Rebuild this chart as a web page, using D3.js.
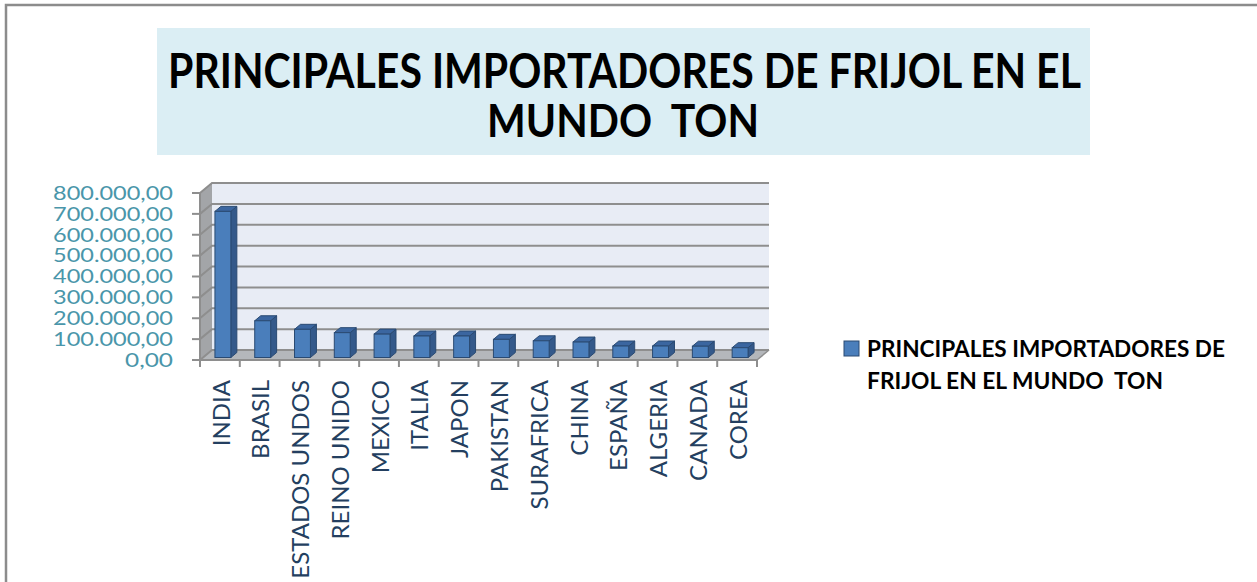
<!DOCTYPE html>
<html>
<head>
<meta charset="utf-8">
<script src="https://cdn.jsdelivr.net/npm/d3@7"></script>
<style>
  body { margin: 0; background: #fff; }
  svg text { font-family: Lato, "Open Sans", sans-serif; }
</style>
</head>
<body>
<div id="chart"></div>
<script>
    let categories = ["INDIA", "BRASIL", "ESTADOS UNDOS", "REINO UNIDO", "MEXICO", "ITALIA", "JAPON",
                      "PAKISTAN", "SURAFRICA", "CHINA", "ESPAÑA", "ALGERIA", "CANADA", "COREA"];
    let values = [700000, 176000, 135000, 119000, 112000, 103000, 103000,
                  87000, 80000, 74000, 55000, 55000, 54000, 47000];
    let yTicks = [0, 100000, 200000, 300000, 400000, 500000, 600000, 700000, 800000];
    let titleLines = ["PRINCIPALES IMPORTADORES DE FRIJOL EN EL", "MUNDO  TON"];
    let legendLines = ["PRINCIPALES IMPORTADORES DE", "FRIJOL EN EL MUNDO  TON"];

    let width = 1257, height = 582;
    let depthX = 12, depthY = 10; // offset of back wall vs front edge

    let svg = d3.select("#chart")
        .append("svg")
        .attr("width", width)
        .attr("height", height);

    // outer frame of the chart area
    svg.append("rect")
        .attr("x", 6).attr("y", 5)
        .attr("width", 1400).attr("height", 800)
        .attr("fill", "#fff")
        .attr("stroke", "#8c8c8c")
        .attr("stroke-width", 2.5);

    // title box
    svg.append("rect")
        .attr("x", 157).attr("y", 28)
        .attr("width", 933).attr("height", 127)
        .attr("fill", "#dbeef4");

    svg.append("text")
        .attr("x", 168).attr("y", 88)
        .attr("textLength", 913)
        .attr("lengthAdjust", "spacingAndGlyphs")
        .attr("font-size", "48px")
        .attr("font-weight", "bold")
        .attr("fill", "#000")
        .text(titleLines[0]);

    svg.append("text")
        .attr("x", 487).attr("y", 137)
        .attr("textLength", 272)
        .attr("lengthAdjust", "spacingAndGlyphs")
        .attr("font-size", "46px")
        .attr("font-weight", "bold")
        .attr("fill", "#000")
        .style("white-space", "pre")
        .text(titleLines[1]);

    // scales (front plane)
    let x = d3.scaleBand()
        .domain(categories)
        .range([200, 757])
        .paddingInner(0.6)
        .paddingOuter(0.3);

    let y = d3.scaleLinear()
        .domain([0, 800000])
        .range([360, 193]);

    // project a point at depth f (0 = front, 1 = back)
    function px(xv, f) { return xv + depthX * f; }
    function py(yv, f) { return yv - depthY * f; }

    let x0 = x.range()[0], x1 = x.range()[1];
    let yTop = y(800000), yBase = y(0);

    // back wall
    svg.append("polygon")
        .attr("points", [[px(x0,1), py(yTop,1)], [px(x1,1), py(yTop,1)], [px(x1,1), py(yBase,1)], [px(x0,1), py(yBase,1)]].join(" "))
        .attr("fill", "#e8ecf5");

    // side wall
    svg.append("polygon")
        .attr("points", [[x0, yTop], [px(x0,1), py(yTop,1)], [px(x0,1), py(yBase,1)], [x0, yBase]].join(" "))
        .attr("fill", "#a3a5a8");

    // floor
    svg.append("polygon")
        .attr("points", [[x0, yBase], [px(x0,1), py(yBase,1)], [px(x1,1), py(yBase,1)], [x1, yBase]].join(" "))
        .attr("fill", "#b4b7bb");

    // gridlines on back wall and side wall
    svg.append("g")
        .selectAll("path")
        .data(yTicks)
        .enter()
        .append("path")
        .attr("d", d => "M" + x0 + "," + y(d) + "L" + px(x0,1) + "," + py(y(d),1) + "L" + px(x1,1) + "," + py(y(d),1))
        .attr("fill", "none")
        .attr("stroke", "#8e8e8e")
        .attr("stroke-width", 2);

    // left axis: front edge line and ticks
    let yAxisG = svg.append("g");
    yAxisG.append("line")
        .attr("x1", x0).attr("x2", x0)
        .attr("y1", yTop).attr("y2", yBase)
        .attr("stroke", "#8e8e8e").attr("stroke-width", 2);
    yAxisG.selectAll(".tick")
        .data(yTicks)
        .enter()
        .append("line")
        .attr("x1", x0 - 8).attr("x2", x0)
        .attr("y1", d => y(d)).attr("y2", d => y(d))
        .attr("stroke", "#8e8e8e").attr("stroke-width", 2);

    let locale = d3.formatLocale({decimal: ",", thousands: ".", grouping: [3], currency: ["", ""]});
    let fmt = locale.format(",.2f");

    yAxisG.selectAll("text")
        .data(yTicks)
        .enter()
        .append("text")
        .attr("x", 173)
        .attr("y", d => y(d))
        .attr("dy", "0.36em")
        .attr("text-anchor", "end")
        .attr("font-size", "19px")
        .attr("textLength", d => fmt(d).length * 12)
        .attr("lengthAdjust", "spacingAndGlyphs")
        .attr("fill", "#4a96aa")
        .text(d => fmt(d));

    // bottom axis line and ticks at band boundaries
    let step = x.step();
    let bounds = categories.map(c => x(c) - step * x.paddingOuter());
    bounds.push(x1);

    svg.append("line")
        .attr("x1", x0).attr("x2", x1)
        .attr("y1", yBase).attr("y2", yBase)
        .attr("stroke", "#8e8e8e").attr("stroke-width", 2);
    svg.append("line")
        .attr("x1", x1).attr("y1", yBase)
        .attr("x2", px(x1,1)).attr("y2", py(yBase,1))
        .attr("stroke", "#8e8e8e").attr("stroke-width", 1.5);
    svg.selectAll(".xtick")
        .data(bounds)
        .enter()
        .append("line")
        .attr("x1", d => d).attr("x2", d => d)
        .attr("y1", yBase).attr("y2", yBase + 7)
        .attr("stroke", "#8e8e8e").attr("stroke-width", 2);

    svg.selectAll(".xlabel")
        .data(categories)
        .enter()
        .append("text")
        .attr("transform", d => "translate(" + (x(d) + x.bandwidth() / 2 + 1) + "," + 380 + ") rotate(-90)")
        .attr("dy", "0.36em")
        .attr("text-anchor", "end")
        .attr("font-size", "24px")
        .attr("fill", "#243f60")
        .text(d => d);

    // bars: front face, right side and top, between depth 0.25 and 0.75
    let fFront = 0.25, fBack = 0.75;
    let bars = svg.append("g")
        .selectAll("g")
        .data(values)
        .enter()
        .append("g");

    bars.append("polygon")
        .attr("points", (d, i) => {
            let xr = x(categories[i]) + x.bandwidth();
            return [[px(xr,fFront), py(y(d),fFront)], [px(xr,fBack), py(y(d),fBack)],
                    [px(xr,fBack), py(yBase,fBack)], [px(xr,fFront), py(yBase,fFront)]].join(" ");
        })
        .attr("fill", "#34598a")
        .attr("stroke", "#2a4a72").attr("stroke-width", 1);

    bars.append("polygon")
        .attr("points", (d, i) => {
            let xl = x(categories[i]), xr = xl + x.bandwidth();
            return [[px(xl,fFront), py(y(d),fFront)], [px(xl,fBack), py(y(d),fBack)],
                    [px(xr,fBack), py(y(d),fBack)], [px(xr,fFront), py(y(d),fFront)]].join(" ");
        })
        .attr("fill", "#3b66a0")
        .attr("stroke", "#2a4a72").attr("stroke-width", 1);

    bars.append("rect")
        .attr("x", (d, i) => px(x(categories[i]), fFront))
        .attr("y", d => py(y(d), fFront))
        .attr("width", x.bandwidth())
        .attr("height", d => y(0) - y(d))
        .attr("fill", "#4a7ebb")
        .attr("stroke", "#2a4a72").attr("stroke-width", 1);

    // legend
    svg.append("rect")
        .attr("x", 844).attr("y", 341)
        .attr("width", 15).attr("height", 15)
        .attr("fill", "#4a7ebb")
        .attr("stroke", "#2a4a72").attr("stroke-width", 1);

    svg.append("text")
        .attr("x", 867).attr("y", 357)
        .attr("textLength", 358)
        .attr("lengthAdjust", "spacingAndGlyphs")
        .attr("font-size", "22px")
        .attr("font-weight", "bold")
        .attr("fill", "#000")
        .text(legendLines[0]);

    svg.append("text")
        .attr("x", 867).attr("y", 389)
        .attr("textLength", 296)
        .attr("lengthAdjust", "spacingAndGlyphs")
        .attr("font-size", "22px")
        .attr("font-weight", "bold")
        .attr("fill", "#000")
        .style("white-space", "pre")
        .text(legendLines[1]);
</script>
</body>
</html>
